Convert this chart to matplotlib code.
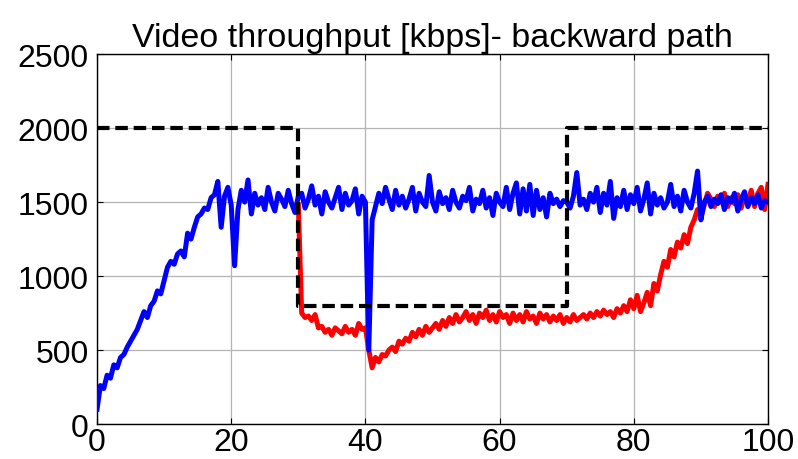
import numpy as np
import matplotlib
matplotlib.use("Agg")
import matplotlib.pyplot as plt

plt.rcParams['font.family'] = ['Liberation Sans', 'DejaVu Sans']

# время, с (шаг 0.5)
t = np.arange(0, 100.01, 0.5)

# синяя кривая: 0..100 с
blue_kbps = [
    100, 260, 240, 330, 310, 400, 380, 450, 470, 520,
    560, 600, 640, 700, 760, 720, 800, 830, 900, 880,
    970, 1060, 1100, 1080, 1150, 1170, 1130, 1290, 1250, 1330,
    1400, 1420, 1460, 1450, 1530, 1550, 1640, 1330, 1540, 1600,
    1480,
    1070, 1450, 1580, 1500, 1650, 1420, 1560, 1480, 1530, 1450,
    1600, 1500, 1440, 1560, 1520, 1470, 1580, 1490, 1430, 1540,
    1560, 1460, 1520, 1610, 1480, 1540, 1420, 1570, 1500, 1460,
    1530, 1600, 1450, 1560, 1480, 1510, 1590, 1420, 1540, 1500,
    500, 1380, 1470, 1560, 1490, 1600, 1520, 1450, 1580, 1480,
    1540, 1460, 1520, 1600, 1440, 1560, 1500, 1470, 1680, 1500,
    1440, 1570, 1490, 1530, 1450, 1580, 1500, 1460, 1540, 1510,
    1600, 1440, 1520, 1490, 1580, 1460, 1530, 1410, 1560, 1500,
    1470, 1600, 1450, 1560, 1630, 1420, 1590, 1440, 1620, 1410,
    1580, 1450, 1530, 1400, 1560, 1490, 1520, 1470, 1510, 1500,
    1460, 1540, 1700, 1480, 1520, 1450, 1560, 1500, 1600, 1430,
    1560, 1480, 1640, 1390, 1530, 1470, 1580, 1450, 1550, 1490,
    1600, 1440, 1520, 1630, 1420, 1560, 1480, 1530, 1460, 1500,
    1620, 1470, 1540, 1440, 1580, 1500, 1460, 1560, 1710, 1380,
    1500, 1540, 1470, 1520, 1490, 1550, 1450, 1530, 1500, 1560,
    1440, 1520, 1570, 1470, 1530, 1490, 1550, 1460, 1510, 1500,
]

# красная кривая: 30..100 с
t_red = np.arange(30, 100.01, 0.5)
red_kbps = [
    1480, 750, 720, 730, 700, 740, 650, 660, 620, 640,
    600, 650, 630, 610, 660, 620, 640, 600, 680, 640,
    650, 500, 380, 450, 420, 470, 460, 500, 520, 490,
    560, 540, 580, 560, 620, 590, 640, 600, 660, 620,
    650, 680, 640, 700, 660, 720, 680, 740, 690, 720,
    760, 700, 740, 680, 750, 720, 770, 700, 740, 690,
    760, 720, 740, 680, 750, 700, 740, 690, 760, 710,
    730, 680, 750, 710, 740, 690, 730, 700, 740, 680,
    720, 690, 740, 700, 720, 740, 710, 750, 720, 760,
    730, 770, 740, 760, 720, 780, 750, 800, 760, 840,
    780, 870, 760, 820, 890, 800, 950, 900, 1010, 1100,
    1060, 1180, 1130, 1230, 1190, 1280, 1220, 1330, 1380, 1450,
    1400, 1480, 1560, 1520, 1470, 1540, 1500, 1560, 1470, 1530,
    1490, 1550, 1460, 1540, 1500, 1580, 1470, 1560, 1600, 1450,
    1620,
]

# пропускная способность канала (ступеньки)
cap_t = [0, 30, 30, 70, 70, 100]
cap_kbps = [2000, 2000, 800, 800, 2000, 2000]

fig = plt.figure(figsize=(7.98, 4.60), dpi=100)
ax = fig.add_axes([0.1216, 0.076, 0.8408, 0.804])

ax.plot(t_red, red_kbps, color='red', lw=3.6, zorder=2)
ax.plot(t, blue_kbps, color='blue', lw=3.6, zorder=3)
ax.plot(cap_t, cap_kbps, color='black', lw=3, dashes=(3, 1.4), zorder=4)

ax.set_xlim(0, 100)
ax.set_ylim(0, 2500)
ax.set_xticks([0, 20, 40, 60, 80, 100])
ax.set_yticks([0, 500, 1000, 1500, 2000, 2500])
ax.grid(True, color='#b4b4b4', lw=0.9)
ax.tick_params(direction='in', top=True, right=True, length=4, labelsize=23)
ax.tick_params(axis='x', pad=2)
ax.tick_params(axis='y', pad=6)
for s in ax.spines.values():
    s.set_linewidth(1)
ax.set_title('Video throughput [kbps]- backward path', fontsize=24.5, pad=6)

fig.savefig('out.png', dpi=100)
